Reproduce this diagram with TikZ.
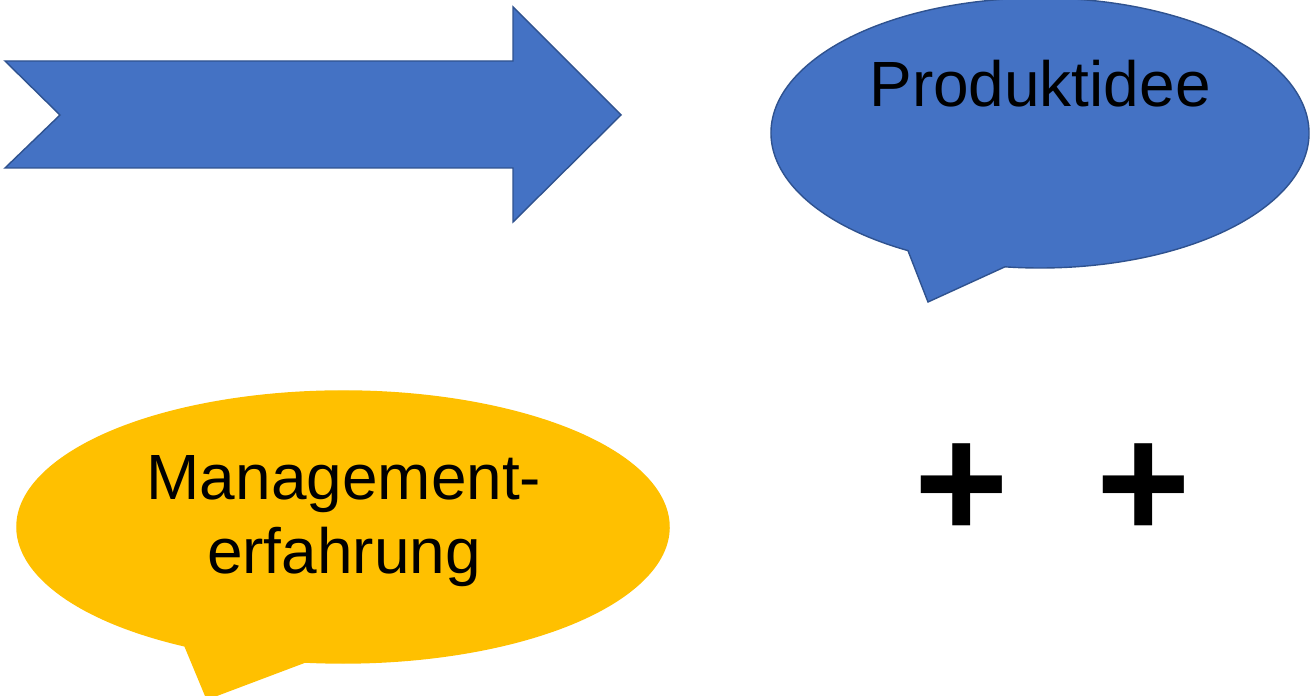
\documentclass[tikz,border=0pt]{standalone}
\usepackage{fontspec}
\setmainfont{Liberation Sans}
\definecolor{bubB}{RGB}{68,114,196}
\definecolor{bubBd}{RGB}{47,82,143}
\definecolor{bubY}{RGB}{255,192,0}
\begin{document}
\begin{tikzpicture}[x=0.02cm,y=-0.02cm,line join=miter,
  blueshape/.style={fill=bubB,draw=bubBd,line width=0.8pt},
  yellowshape/.style={fill=bubY,draw=bubY,line width=0.8pt},
  label/.style={inner sep=0pt,font=\fontsize{36.4}{42.5}\selectfont},
  plus/.style={inner sep=0pt,font=\fontsize{92}{100}\selectfont\bfseries}]
\useasboundingbox (0,0) rectangle (1316,696);
% block arrow
\draw[blueshape] (5,61)--(513,61)--(513,7)--(621,115)--(513,222)--(513,168)--(5,168)--(60,115)--cycle;
% speech bubbles
\draw[blueshape] ([shift={(119.4:269 and 135)}]1040,133) arc[start angle=119.4,end angle=457.5,x radius=269,y radius=135]--(928,302)--cycle;
\draw[yellowshape] ([shift={(119:326 and 136)}]343,527) arc[start angle=119,end angle=456.7,x radius=326,y radius=136]--(207,699)--cycle;
\node[label,anchor=base] (idee) at (1040,107) {Produktidee};
\node[label,align=center] (erfahrung) at (344,521) {Management-\\erfahrung};
\node[plus] (plusA) at (962,491) {+};
\node[plus] (plusB) at (1144,491) {+};
\end{tikzpicture}
\end{document}
